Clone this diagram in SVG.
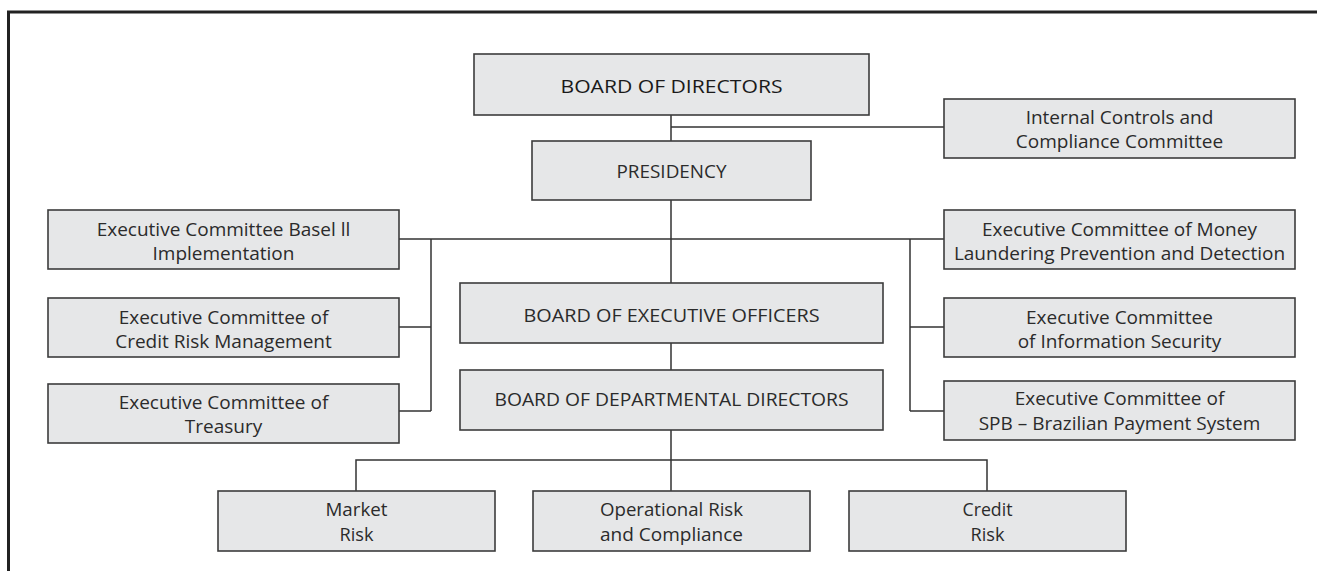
<svg xmlns="http://www.w3.org/2000/svg" width="1317" height="571" viewBox="0 0 1317 571">
<style>
.box{fill:#e6e7e8;stroke:#3c3c3c;stroke-width:1.6}
.t{font-family:"Open Sans","Noto Sans",sans-serif;font-size:19px;fill:#2b2b2b;text-anchor:middle}
.c{font-family:"Open Sans","Noto Sans",sans-serif;font-size:19px;fill:#2b2b2b;text-anchor:middle}
.ln{fill:none;stroke:#333;stroke-width:1.5}
</style>
<rect width="1317" height="571" fill="#fff"/>
<path d="M8.5 571 V12 H1317" fill="none" stroke="#222" stroke-width="3"/>
<g id="connectors" class="ln">
<path d="M671 115 V141 M671 127 H944"/>
<path d="M671 200 V283 M399 239 H944"/>
<path d="M431 239 V411 M399 327 H431 M399 411 H431"/>
<path d="M910 239 V411 M910 327 H944 M910 411 H944"/>
<path d="M671 343 V370 M671 430 V491"/>
<path d="M356 491 V460 H987 V491"/>
</g>
<g id="board-of-directors"><rect class="box" x="474" y="54" width="395" height="61"/><text class="t" x="671.5" y="93" style="fill:#1a1a1a" textLength="222" lengthAdjust="spacingAndGlyphs">BOARD OF DIRECTORS</text></g>
<g id="internal-controls"><rect class="box" x="944" y="99" width="351" height="59"/><text class="t" x="1119.5" y="124">Internal Controls and</text><text class="t" x="1119.5" y="148">Compliance Committee</text></g>
<g id="presidency"><rect class="box" x="532" y="141" width="279" height="59"/><text class="t" x="671.5" y="178" textLength="110" lengthAdjust="spacingAndGlyphs">PRESIDENCY</text></g>
<g id="basel"><rect class="box" x="48" y="210" width="351" height="59"/><text class="t" x="223.5" y="236">Executive Committee Basel ll</text><text class="t" x="223.5" y="260">Implementation</text></g>
<g id="credit-risk-mgmt"><rect class="box" x="48" y="298" width="351" height="59"/><text class="t" x="223.5" y="324">Executive Committee of</text><text class="t" x="223.5" y="348">Credit Risk Management</text></g>
<g id="treasury"><rect class="box" x="48" y="384" width="351" height="59"/><text class="t" x="223.5" y="409">Executive Committee of</text><text class="t" x="223.5" y="433">Treasury</text></g>
<g id="money-laundering"><rect class="box" x="944" y="210" width="351" height="59"/><text class="t" x="1119.5" y="236">Executive Committee of Money</text><text class="t" x="1119.5" y="260">Laundering Prevention and Detection</text></g>
<g id="info-security"><rect class="box" x="944" y="298" width="351" height="59"/><text class="t" x="1119.5" y="324">Executive Committee</text><text class="t" x="1119.5" y="348">of Information Security</text></g>
<g id="spb"><rect class="box" x="944" y="381" width="351" height="59"/><text class="t" x="1119.5" y="405">Executive Committee of</text><text class="t" x="1119.5" y="430">SPB – Brazilian Payment System</text></g>
<g id="executive-officers"><rect class="box" x="460" y="283" width="423" height="60"/><text class="t" x="671.5" y="322" textLength="296" lengthAdjust="spacingAndGlyphs">BOARD OF EXECUTIVE OFFICERS</text></g>
<g id="departmental-directors"><rect class="box" x="460" y="370" width="423" height="60"/><text class="t" x="671.5" y="406" textLength="354" lengthAdjust="spacingAndGlyphs">BOARD OF DEPARTMENTAL DIRECTORS</text></g>
<g id="market-risk"><rect class="box" x="218" y="491" width="277" height="60"/><text class="c" x="356.5" y="516" textLength="62" lengthAdjust="spacingAndGlyphs">Market</text><text class="c" x="356.5" y="541" textLength="34" lengthAdjust="spacingAndGlyphs">Risk</text></g>
<g id="operational-risk"><rect class="box" x="533" y="491" width="277" height="60"/><text class="c" x="671.5" y="516" textLength="143" lengthAdjust="spacingAndGlyphs">Operational Risk</text><text class="c" x="671.5" y="541" textLength="143" lengthAdjust="spacingAndGlyphs">and Compliance</text></g>
<g id="credit-risk"><rect class="box" x="849" y="491" width="277" height="60"/><text class="c" x="987.5" y="516" textLength="50" lengthAdjust="spacingAndGlyphs">Credit</text><text class="c" x="987.5" y="541" textLength="34" lengthAdjust="spacingAndGlyphs">Risk</text></g>
</svg>
